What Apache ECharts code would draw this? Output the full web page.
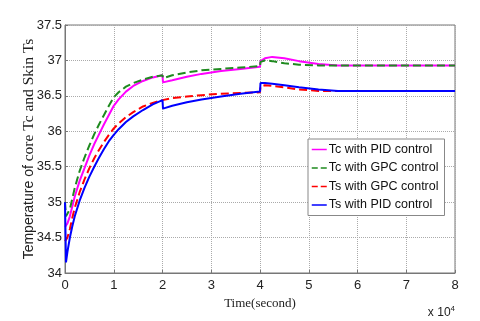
<!DOCTYPE html>
<html>
<head>
<meta charset="utf-8">
<script src="https://cdn.jsdelivr.net/npm/echarts@6/dist/echarts.min.js"></script>
<style>
  html, body { margin: 0; padding: 0; background: #fff; }
  #chart { width: 480px; height: 321px; }
</style>
</head>
<body>
<div id="chart"></div>
<script>
// time in units of 1e4 seconds
const time = [0, 0.02, 0.05, 0.1, 0.15, 0.2, 0.3, 0.4, 0.5, 0.6, 0.7, 0.8, 0.9, 1, 1.1, 1.25, 1.4, 1.6, 1.8, 2, 2.01, 2.2, 2.5, 2.8, 3.2, 3.6, 4, 4.01, 4.1, 4.25, 4.5, 4.8, 5.2, 5.6, 6, 7, 8];
const tcPid = [34.65, 34.66, 34.7, 34.8, 34.94, 35.08, 35.3, 35.48, 35.66, 35.82, 35.96, 36.1, 36.23, 36.36, 36.45, 36.56, 36.64, 36.71, 36.76, 36.79, 36.69, 36.72, 36.77, 36.81, 36.85, 36.88, 36.91, 36.99, 37.03, 37.05, 37.03, 36.99, 36.95, 36.93, 36.93, 36.93, 36.93];
const tcGpc = [35, 34.8, 34.78, 34.9, 35.05, 35.2, 35.44, 35.63, 35.8, 35.96, 36.1, 36.23, 36.36, 36.48, 36.55, 36.63, 36.68, 36.73, 36.77, 36.79, 36.75, 36.79, 36.83, 36.86, 36.88, 36.9, 36.92, 36.98, 37.0, 36.99, 36.96, 36.94, 36.93, 36.93, 36.93, 36.93, 36.93];
const tsGpc = [34.45, 34.45, 34.5, 34.62, 34.78, 34.92, 35.14, 35.32, 35.48, 35.62, 35.74, 35.85, 35.95, 36.04, 36.11, 36.2, 36.27, 36.35, 36.4, 36.44, 36.44, 36.47, 36.49, 36.51, 36.53, 36.54, 36.55, 36.63, 36.65, 36.64, 36.62, 36.59, 36.57, 36.57, 36.57, 36.57, 36.57];
const tsPid = [35, 34.15, 34.3, 34.5, 34.66, 34.8, 35.02, 35.2, 35.36, 35.5, 35.63, 35.75, 35.86, 35.95, 36.03, 36.13, 36.21, 36.3, 36.38, 36.44, 36.32, 36.36, 36.41, 36.45, 36.49, 36.53, 36.56, 36.68, 36.68, 36.67, 36.65, 36.62, 36.59, 36.57, 36.57, 36.57, 36.57];

const names = ["Tc with PID control", "Tc with GPC control", "Ts with GPC control", "Ts with PID control"];
const colors = ["#ff00ff", "#1f8a1f", "#ff0000", "#0000ff"];
const dashes = ["solid", "dashed", "dashed", "solid"];
const values = [tcPid, tcGpc, tsGpc, tsPid];

const chart = echarts.init(document.getElementById("chart"));

const sansFont = "Liberation Sans";
const serifFont = "Liberation Serif";

chart.setOption({
  animation: false,
  grid: {
    left: 65, right: 25, top: 25, bottom: 48,
    show: true, borderColor: "#777", borderWidth: 1
  },
  legend: {
    orient: "vertical",
    left: 308, top: 139,
    data: names,
    backgroundColor: "#fff",
    borderColor: "#888", borderWidth: 1,
    padding: [4, 6, 4, 3],
    itemGap: 5.5,
    itemWidth: 15, itemHeight: 12,
    itemStyle: { opacity: 0 },
    lineStyle: { width: 1.5 },
    textStyle: { fontFamily: sansFont, fontSize: 12.5, color: "#111", padding: [0, 0, 0, -3] }
  },
  xAxis: {
    type: "value",
    min: 0, max: 8, interval: 1,
    name: "Time(second)",
    nameLocation: "middle",
    nameGap: 16,
    nameTextStyle: { fontFamily: serifFont, fontSize: 13, color: "#222" },
    axisLine: { lineStyle: { color: "#777" } },
    axisTick: { inside: true, length: 3, lineStyle: { color: "#777" } },
    axisLabel: { fontFamily: sansFont, fontSize: 13, color: "#222", margin: 6 },
    splitLine: { lineStyle: { type: "dotted", color: "#aaa" } }
  },
  yAxis: {
    type: "value",
    min: 34, max: 37.5, interval: 0.5,
    name: "{a|Temperature of }{b|core Tc and Skin Ts}",
    nameLocation: "middle",
    nameGap: 28,
    nameMoveOverlap: false,
    nameTextStyle: {
      rich: {
        a: { fontFamily: sansFont, fontSize: 14, color: "#222" },
        b: { fontFamily: serifFont, fontSize: 15.5, color: "#222" }
      }
    },
    axisLine: { show: true, lineStyle: { color: "#777" } },
    axisTick: { show: true, inside: true, length: 3, lineStyle: { color: "#777" } },
    axisLabel: { fontFamily: sansFont, fontSize: 13, color: "#222", margin: 3 },
    splitLine: { lineStyle: { type: "dotted", color: "#aaa" } }
  },
  graphic: [{
    type: "text",
    right: 25, top: 305,
    style: {
      text: "x 10{s|4}",
      fontFamily: sansFont, fontSize: 12, fill: "#222",
      rich: { s: { fontSize: 8, verticalAlign: "top", padding: [0, 0, 8, 0] } }
    }
  }],
  series: names.map((n, i) => ({
    name: n,
    type: "line",
    showSymbol: false,
    symbol: "none",
    color: colors[i],
    lineStyle: { width: 2, type: dashes[i], color: colors[i] },
    data: time.map((t, k) => [t, values[i][k]])
  }))
});
</script>
</body>
</html>
